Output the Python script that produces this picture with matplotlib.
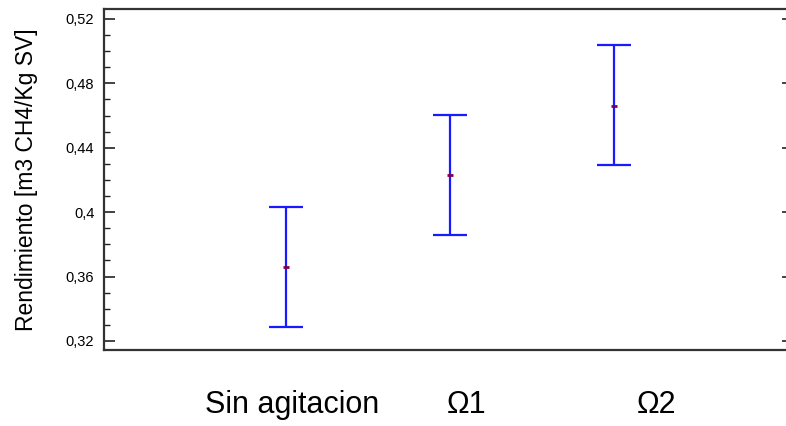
import matplotlib
matplotlib.use("Agg")
import matplotlib.pyplot as plt
from matplotlib.ticker import MultipleLocator, FuncFormatter
import matplotlib.transforms as mtransforms

plt.rcParams["font.family"] = ["Liberation Sans", "DejaVu Sans"]

categories = ["Sin agitacion", "\u03a91", "\u03a92"]
means = [0.366, 0.423, 0.466]
lower = [0.3287, 0.3858, 0.4293]
upper = [0.4032, 0.4604, 0.5039]

xpos = [0, 1, 2]
label_x = [0.04, 1.10, 2.26]

fig = plt.figure(figsize=(7.86, 4.26), dpi=100)
ax = fig.add_axes([104 / 786, 1 - 350 / 426, 1 - 104 / 786, 341 / 426])

err = [[m - lo for m, lo in zip(means, lower)], [hi - m for m, hi in zip(means, upper)]]
ax.errorbar(xpos, means, yerr=err, fmt="none", ecolor="#1a1aff", elinewidth=1.6,
            capsize=12.5, capthick=1.6)
ax.plot(xpos, means, linestyle="none", marker="_", color="#800050", ms=4, mew=2)

ax.set_xlim(-1.11, 3.05)
ax.set_ylim(0.3144, 0.5262)
ax.yaxis.set_major_locator(MultipleLocator(0.04))
ax.yaxis.set_minor_locator(MultipleLocator(0.01))
ax.yaxis.set_major_formatter(FuncFormatter(lambda v, p: f"{v:.2f}".rstrip("0").replace(".", ",")))
ax.tick_params(axis="y", which="major", direction="in", length=8, width=1.2, labelsize=10.5,
               color="#222222", pad=7)
ax.tick_params(axis="y", which="minor", direction="in", length=4.5, width=1.0, color="#222222")
# short marks on the right edge
ax.tick_params(axis="y", which="major", right=True)
ax.tick_params(axis="y", which="minor", right=False)
for t in ax.yaxis.get_major_ticks():
    t.tick2line.set_markersize(3)
ax.set_xticks([])
for s in ["left", "top", "bottom"]:
    ax.spines[s].set_linewidth(1.6)
    ax.spines[s].set_color("#333333")
ax.spines["right"].set_visible(False)

ax.set_ylabel("Rendimiento [m3 CH4/Kg SV]", fontsize=16.5, labelpad=20)

trans = mtransforms.blended_transform_factory(ax.transData, fig.transFigure)
for x, lab in zip(label_x, categories):
    ax.text(x, 1 - 405 / 426, lab, transform=trans, ha="center", va="center", fontsize=22)

fig.savefig("out.png", dpi=100)
